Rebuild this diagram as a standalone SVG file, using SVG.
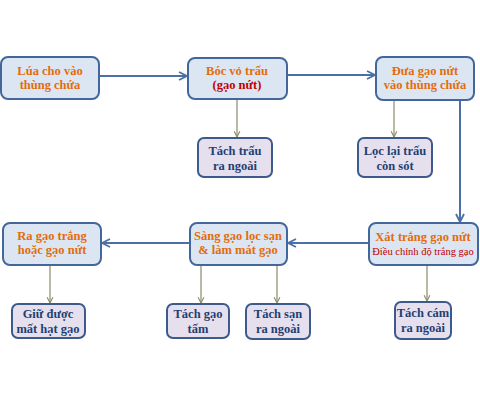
<svg xmlns="http://www.w3.org/2000/svg" width="480" height="400" viewBox="0 0 480 400">
<defs>
<style>
.main rect{fill:#dce6f2;stroke:#43679b;stroke-width:2}
.sub rect{fill:#e6e0ee;stroke:#3d5a8c;stroke-width:2}
text{font-family:"Liberation Serif","DejaVu Serif",serif;font-weight:bold;text-anchor:middle}
.o{fill:#e46c0a;font-size:12.5px}
.r{fill:#c00000;font-size:12.5px}
.rs{fill:#c00000;font-size:10.5px;font-weight:normal}
.b{fill:#1f3f73;font-size:12.5px}
.ma{stroke:#4a70a6;stroke-width:2;fill:none;marker-end:url(#mh)}
.sa{stroke:#8a8a6a;stroke-width:1.2;fill:none;marker-end:url(#sh)}
</style>
<marker id="mh" viewBox="0 0 10 10" refX="9" refY="5" markerWidth="5" markerHeight="5" orient="auto" markerUnits="strokeWidth"><path d="M1,1 L9,5 L1,9" fill="none" stroke="#4a70a6" stroke-width="1.8"/></marker>
<marker id="sh" viewBox="0 0 10 10" refX="9" refY="5" markerWidth="6" markerHeight="6" orient="auto" markerUnits="strokeWidth"><path d="M1,1 L9,5 L1,9" fill="none" stroke="#8a8a6a" stroke-width="1.5"/></marker>
</defs>
<rect width="480" height="400" fill="#ffffff"/>
<g id="connectors">
<path class="ma" d="M99,76 L187,76"/>
<path class="ma" d="M287,75 L375,75"/>
<path class="ma" d="M460,100 L460,222"/>
<path class="ma" d="M369,243 L288,243"/>
<path class="ma" d="M190,243 L102,243"/>
<path class="sa" d="M237,99 L237,137"/>
<path class="sa" d="M394,100 L394,137"/>
<path class="sa" d="M50,265 L50,303"/>
<path class="sa" d="M201,265 L201,303"/>
<path class="sa" d="M277,265 L277,303"/>
<path class="sa" d="M427,265 L427,301"/>
</g>
<g id="n1" class="main"><rect x="1" y="57" width="98" height="42" rx="7"/><text class="o" x="50" y="75">Lúa cho vào</text><text class="o" x="50" y="89">thùng chứa</text></g>
<g id="n2" class="main"><rect x="188" y="58" width="99" height="41" rx="7"/><text class="o" x="237" y="75">Bóc vỏ trấu</text><text class="r" x="237" y="89">(gạo nứt)</text></g>
<g id="n3" class="main"><rect x="376" y="57" width="98" height="43" rx="7"/><text class="o" x="425" y="75">Đưa gạo nứt</text><text class="o" x="425" y="89">vào thùng chứa</text></g>
<g id="n4" class="sub"><rect x="198" y="138" width="74" height="39" rx="6"/><text class="b" x="235" y="155">Tách trấu</text><text class="b" x="235" y="170">ra ngoài</text></g>
<g id="n5" class="sub"><rect x="358" y="138" width="74" height="39" rx="6"/><text class="b" x="395" y="155">Lọc lại trấu</text><text class="b" x="395" y="170">còn sót</text></g>
<g id="n6" class="main"><rect x="369" y="223" width="109" height="42" rx="7"/><text class="o" x="423" y="241">Xát trắng gạo nứt</text><text class="rs" x="423" y="255">Điều chỉnh độ trắng gạo</text></g>
<g id="n7" class="main"><rect x="190" y="223" width="97" height="42" rx="7"/><text class="o" x="238" y="240">Sàng gạo lọc sạn</text><text class="o" x="238" y="254">&amp; làm mát gạo</text></g>
<g id="n8" class="main"><rect x="3" y="223" width="98" height="42" rx="7"/><text class="o" x="52" y="240">Ra gạo trắng</text><text class="o" x="52" y="254">hoặc gạo nứt</text></g>
<g id="n9" class="sub"><rect x="12" y="304" width="73" height="34" rx="6"/><text class="b" x="48" y="318">Giữ được</text><text class="b" x="48" y="333">mất hạt gạo</text></g>
<g id="n10" class="sub"><rect x="167" y="304" width="62" height="34" rx="6"/><text class="b" x="198" y="318">Tách gạo</text><text class="b" x="198" y="333">tấm</text></g>
<g id="n11" class="sub"><rect x="246" y="304" width="64" height="35" rx="6"/><text class="b" x="278" y="318">Tách sạn</text><text class="b" x="278" y="333">ra ngoài</text></g>
<g id="n12" class="sub"><rect x="395" y="302" width="56" height="37" rx="6"/><text class="b" x="423" y="317">Tách cám</text><text class="b" x="423" y="332">ra ngoài</text></g>
</svg>
